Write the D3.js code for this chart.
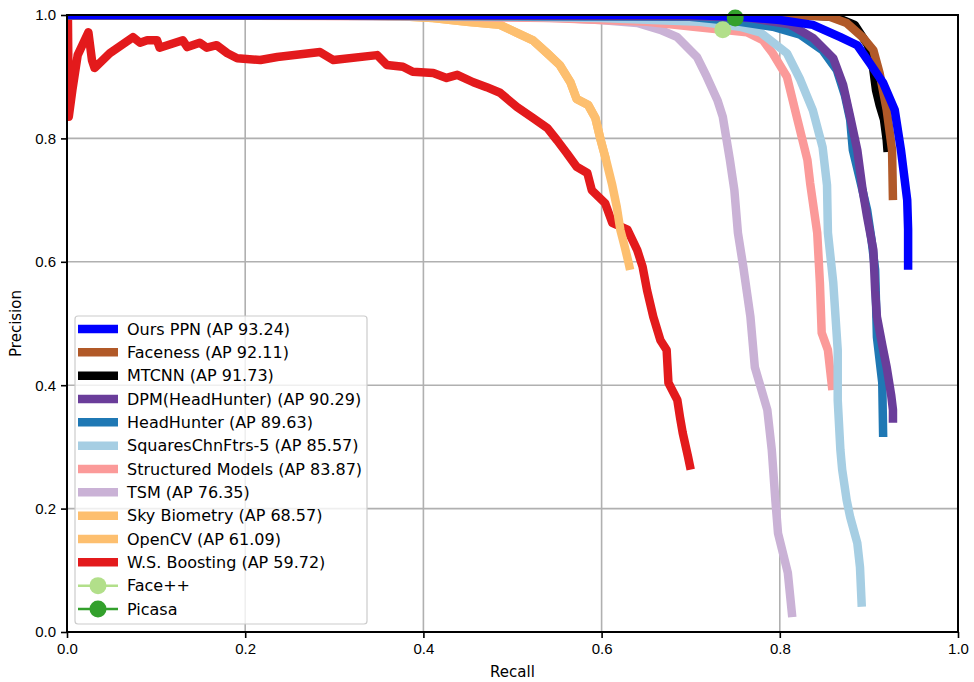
<!doctype html>
<html lang="en">
<head>
  <meta charset="utf-8">
  <title>Precision-Recall</title>
  <style>
    body { margin: 0; background: #fff; }
    svg { display: block; font-family: "DejaVu Sans", sans-serif; }
    .grid line { stroke: #b0b0b0; stroke-width: 1.6px; }
    .axis text { font-size: 15px; fill: #000; }
    .axis line { stroke: #000; stroke-width: 1.6px; }
    .curve { fill: none; stroke-width: 8.5px; stroke-linejoin: round; stroke-linecap: butt; }
  </style>
</head>
<body>
  <div id="chart"></div>
  <script src="https://cdn.jsdelivr.net/npm/d3@7"></script>
  <script>
// [recall, precision] pairs
var oursPPN = [[0,1.0],[0.699,1.0],[0.755,0.997],[0.800,0.992],[0.837,0.984],[0.868,0.964],[0.887,0.951],[0.901,0.922],[0.916,0.890],[0.929,0.846],[0.936,0.781],[0.943,0.700],[0.944,0.652],[0.944,0.587]];
var faceness = [[0,1.0],[0.811,1.0],[0.856,0.997],[0.875,0.987],[0.893,0.964],[0.905,0.943],[0.912,0.906],[0.920,0.846],[0.926,0.781],[0.927,0.700]];
var mtcnn = [[0,1.0],[0.823,1.0],[0.862,0.997],[0.884,0.984],[0.899,0.951],[0.905,0.911],[0.908,0.878],[0.912,0.854],[0.917,0.830],[0.920,0.797],[0.921,0.778]];
var dpmHeadHunter = [[0,1.0],[0.710,0.998],[0.767,0.995],[0.811,0.985],[0.837,0.963],[0.860,0.930],[0.871,0.887],[0.879,0.835],[0.887,0.781],[0.893,0.716],[0.898,0.673],[0.905,0.619],[0.907,0.554],[0.909,0.511],[0.915,0.465],[0.920,0.429],[0.925,0.384],[0.927,0.360],[0.927,0.339]];
var headHunter = [[0,1.0],[0.699,0.997],[0.755,0.989],[0.792,0.981],[0.823,0.968],[0.848,0.943],[0.864,0.911],[0.873,0.870],[0.879,0.830],[0.882,0.781],[0.890,0.733],[0.898,0.684],[0.903,0.635],[0.907,0.587],[0.909,0.478],[0.912,0.441],[0.915,0.404],[0.916,0.316]];
var squaresChn = [[0,1.0],[0.486,0.998],[0.598,0.995],[0.710,0.989],[0.755,0.981],[0.778,0.972],[0.808,0.938],[0.823,0.895],[0.837,0.846],[0.848,0.786],[0.853,0.724],[0.854,0.647],[0.860,0.566],[0.865,0.457],[0.865,0.376],[0.868,0.295],[0.870,0.263],[0.875,0.214],[0.879,0.186],[0.887,0.144],[0.890,0.105],[0.892,0.041]];
var structured = [[0,1.0],[0.374,0.998],[0.542,0.995],[0.651,0.989],[0.703,0.981],[0.763,0.972],[0.781,0.959],[0.792,0.938],[0.808,0.900],[0.819,0.835],[0.831,0.765],[0.834,0.728],[0.842,0.647],[0.845,0.566],[0.847,0.485],[0.854,0.457],[0.859,0.392]];
var tsm = [[0,1.0],[0.430,0.998],[0.553,0.995],[0.598,0.992],[0.640,0.987],[0.666,0.976],[0.685,0.964],[0.707,0.932],[0.718,0.900],[0.730,0.862],[0.736,0.835],[0.744,0.765],[0.749,0.716],[0.753,0.647],[0.759,0.592],[0.767,0.511],[0.772,0.429],[0.786,0.360],[0.791,0.295],[0.795,0.214],[0.798,0.160],[0.809,0.096],[0.814,0.024]];
var skyBiometry = [[0,1.0],[0.295,1.0],[0.374,0.998],[0.411,0.995],[0.449,0.989],[0.486,0.984],[0.505,0.971],[0.523,0.959],[0.539,0.938],[0.553,0.919],[0.565,0.891],[0.572,0.864],[0.585,0.854],[0.593,0.833],[0.599,0.797],[0.605,0.765],[0.612,0.724],[0.617,0.689],[0.621,0.652],[0.626,0.624],[0.630,0.600],[0.632,0.587]];
var openCV = [[0,1.0],[0.295,1.0],[0.374,0.998],[0.411,0.995],[0.449,0.989],[0.486,0.984],[0.505,0.971],[0.523,0.959],[0.539,0.938],[0.553,0.919],[0.565,0.891],[0.572,0.864],[0.585,0.854],[0.593,0.833],[0.599,0.797],[0.605,0.765]];
var wsBoosting = [[0.001,1.0],[0.002,0.835],[0.006,0.878],[0.012,0.935],[0.024,0.972],[0.028,0.927],[0.031,0.914],[0.048,0.938],[0.074,0.964],[0.082,0.955],[0.090,0.959],[0.101,0.959],[0.104,0.947],[0.130,0.959],[0.135,0.948],[0.149,0.955],[0.157,0.947],[0.168,0.951],[0.180,0.938],[0.191,0.930],[0.217,0.927],[0.236,0.932],[0.284,0.940],[0.299,0.927],[0.348,0.935],[0.359,0.919],[0.377,0.916],[0.388,0.908],[0.411,0.906],[0.426,0.898],[0.438,0.903],[0.456,0.891],[0.471,0.883],[0.486,0.874],[0.505,0.851],[0.523,0.833],[0.539,0.817],[0.550,0.797],[0.561,0.776],[0.572,0.754],[0.584,0.744],[0.589,0.716],[0.604,0.695],[0.612,0.663],[0.629,0.652],[0.640,0.619],[0.646,0.592],[0.651,0.554],[0.658,0.511],[0.666,0.473],[0.673,0.457],[0.675,0.404],[0.685,0.376],[0.688,0.348],[0.691,0.323],[0.697,0.284],[0.700,0.263]];
var facePlusPlus = [0.736, 0.976];
var picasa = [0.750, 0.995];

var curveNames = ["Ours PPN (AP 93.24)", "Faceness (AP 92.11)", "MTCNN (AP 91.73)", "DPM(HeadHunter) (AP 90.29)",
  "HeadHunter (AP 89.63)", "SquaresChnFtrs-5 (AP 85.57)", "Structured Models (AP 83.87)", "TSM (AP 76.35)",
  "Sky Biometry (AP 68.57)", "OpenCV (AP 61.09)", "W.S. Boosting (AP 59.72)"];
var curveData = [oursPPN, faceness, mtcnn, dpmHeadHunter, headHunter, squaresChn, structured, tsm, skyBiometry, openCV, wsBoosting];
var curveColors = ["#0000ff", "#b15928", "#000000", "#6a3d9a", "#1f78b4", "#a6cee3", "#fb9a99", "#cab2d6", "#fdbf6f", "#fdbf6f", "#e31a1c"];
var pointNames = ["Face++", "Picasa"];
var pointData = [facePlusPlus, picasa];
var pointColors = ["#b2df8a", "#33a02c"];
var ticks = [0, 0.2, 0.4, 0.6, 0.8, 1.0];

(function() {
  var width = 974, height = 682;
  var left = 67, right = 958, top = 15, bottom = 632;

  var x = d3.scaleLinear().domain([0, 1]).range([left, right]);
  var y = d3.scaleLinear().domain([0, 1]).range([bottom, top]);

  var svg = d3.select("#chart").append("svg")
      .attr("width", width)
      .attr("height", height);

  svg.append("clipPath").attr("id", "plot-clip")
    .append("rect")
      .attr("x", left).attr("y", top)
      .attr("width", right - left).attr("height", bottom - top);

  // grid
  var grid = svg.append("g").attr("class", "grid");
  grid.selectAll(".vx").data(ticks).enter().append("line")
      .attr("x1", function(d) { return x(d); }).attr("x2", function(d) { return x(d); })
      .attr("y1", top).attr("y2", bottom);
  grid.selectAll(".hy").data(ticks).enter().append("line")
      .attr("y1", function(d) { return y(d); }).attr("y2", function(d) { return y(d); })
      .attr("x1", left).attr("x2", right);

  var line = d3.line()
      .x(function(d) { return x(d[0]); })
      .y(function(d) { return y(d[1]); });

  // drawn last-to-first so the legend's first entry sits on top
  var plot = svg.append("g").attr("clip-path", "url(#plot-clip)");
  for (var i = curveData.length - 1; i >= 0; i--) {
    plot.append("path")
        .attr("class", "curve")
        .attr("d", line(curveData[i]))
        .attr("stroke", curveColors[i]);
  }

  svg.append("g").selectAll("circle").data(pointData).enter().append("circle")
      .attr("cx", function(d) { return x(d[0]); })
      .attr("cy", function(d) { return y(d[1]); })
      .attr("r", 8.5)
      .attr("fill", function(d, i) { return pointColors[i]; });

  // axes
  var fmt = d3.format(".1f");
  var xAxis = svg.append("g").attr("class", "axis")
      .attr("transform", "translate(0," + bottom + ")")
      .call(d3.axisBottom(x).tickValues(ticks).tickFormat(fmt).tickSize(6).tickPadding(5));
  var yAxis = svg.append("g").attr("class", "axis")
      .attr("transform", "translate(" + left + ",0)")
      .call(d3.axisLeft(y).tickValues(ticks).tickFormat(fmt).tickSize(6).tickPadding(5));
  xAxis.select(".domain").remove();
  yAxis.select(".domain").remove();

  svg.append("rect")
      .attr("x", left).attr("y", top)
      .attr("width", right - left).attr("height", bottom - top)
      .attr("fill", "none").attr("stroke", "#000").attr("stroke-width", 2);

  svg.append("text")
      .attr("x", (left + right) / 2).attr("y", 677)
      .attr("text-anchor", "middle").attr("font-size", 15)
      .text("Recall");
  svg.append("text")
      .attr("transform", "translate(21," + ((top + bottom) / 2) + ") rotate(-90)")
      .attr("text-anchor", "middle").attr("font-size", 15)
      .text("Precision");

  // legend
  var lx = 75, ly = 316, rowH = 23.33;
  var legend = svg.append("g");
  legend.append("rect")
      .attr("x", lx).attr("y", ly).attr("width", 292).attr("height", 308).attr("rx", 3)
      .attr("fill", "#fff").attr("fill-opacity", 0.8)
      .attr("stroke", "#cccccc").attr("stroke-width", 1.2);

  var entries = curveNames.map(function(n, i) { return {name: n, color: curveColors[i], marker: false}; })
      .concat(pointNames.map(function(n, i) { return {name: n, color: pointColors[i], marker: true}; }));

  var row = legend.selectAll(".row").data(entries).enter().append("g")
      .attr("transform", function(d, i) { return "translate(0," + (ly + 13 + i * rowH) + ")"; });
  row.append("line")
      .attr("x1", lx + 3).attr("x2", lx + 43)
      .attr("stroke", function(d) { return d.color; })
      .attr("stroke-width", function(d) { return d.marker ? 2.5 : 8.5; });
  row.filter(function(d) { return d.marker; }).append("circle")
      .attr("cx", lx + 23).attr("r", 8.5)
      .attr("fill", function(d) { return d.color; });
  row.append("text")
      .attr("x", lx + 52).attr("dy", "0.35em")
      .attr("font-size", 16)
      .text(function(d) { return d.name; });
})();
  </script>
</body>
</html>
